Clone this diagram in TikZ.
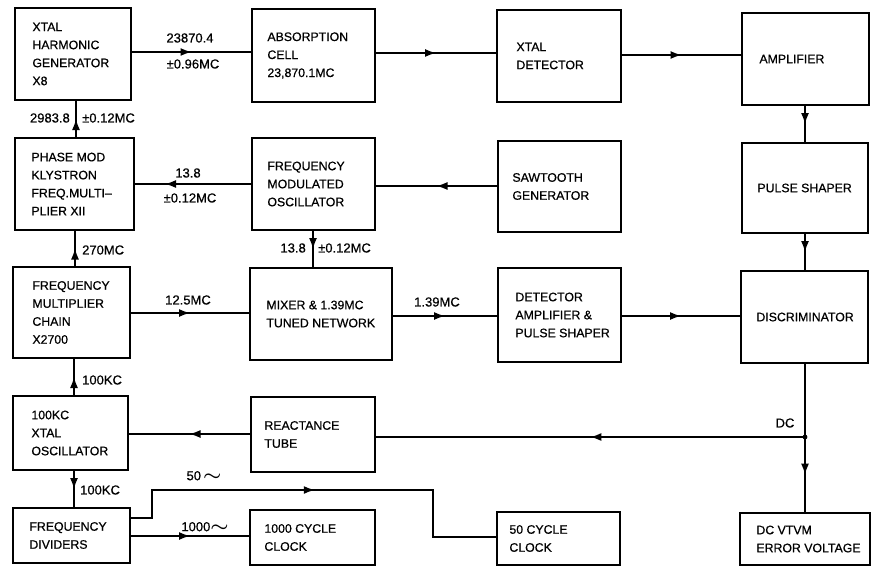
\documentclass[tikz,border=0pt]{standalone}
\usepackage{fontspec}
\setmainfont{Liberation Sans}[FakeBold=0.6]
\usetikzlibrary{decorations.markings,arrows.meta}
\usepackage{amsmath,bm}
\newcommand\wavesym{\raisebox{-0.1ex}{\scalebox{1.7}[1.4]{$\boldsymbol{\sim}$}}}
\tikzset{
  blk/.style={draw, line width=1.5pt, rectangle, inner sep=0pt},
  txt/.style={anchor=west, inner sep=0pt, align=left, font=\fontsize{12.3}{18}\selectfont},
  lbl/.style={inner sep=0pt, font=\fontsize{13}{15}\selectfont},
  wire/.style={line width=1.5pt},
  tipmark/.style={decorate, decoration={markings,
    mark=at position #1 with {\arrow{Latex[length=11pt,width=8pt]}}}},
  arr/.style={wire, postaction={tipmark=#1}},
  arr/.default=0.5
}
\begin{document}
\begin{tikzpicture}[x=1pt,y=-1pt]
\useasboundingbox (0,0) rectangle (874,567);
% boxes
\node[blk, minimum width=116pt, minimum height=92pt] (b1) at (73,54) {};
\node[blk, minimum width=123pt, minimum height=93pt] (b2) at (313.5,55.5) {};
\node[blk, minimum width=124pt, minimum height=92pt] (b3) at (559,56) {};
\node[blk, minimum width=127pt, minimum height=92pt] (b4) at (805.5,59) {};
\node[blk, minimum width=119pt, minimum height=92pt] (b5) at (74.5,184) {};
\node[blk, minimum width=123pt, minimum height=92pt] (b6) at (313.5,184) {};
\node[blk, minimum width=123pt, minimum height=91pt] (b7) at (559.5,186.5) {};
\node[blk, minimum width=126pt, minimum height=90pt] (b8) at (805,188) {};
\node[blk, minimum width=117pt, minimum height=91pt] (b9) at (71.5,312.5) {};
\node[blk, minimum width=142pt, minimum height=92pt] (b10) at (321,314) {};
\node[blk, minimum width=123pt, minimum height=94pt] (b11) at (559.5,315) {};
\node[blk, minimum width=127pt, minimum height=92pt] (b12) at (804.5,317) {};
\node[blk, minimum width=115pt, minimum height=74pt] (b13) at (70.5,433) {};
\node[blk, minimum width=124pt, minimum height=75pt] (b14) at (313,434.5) {};
\node[blk, minimum width=117pt, minimum height=55pt] (b15) at (71.5,535.5) {};
\node[blk, minimum width=125pt, minimum height=55pt] (b16) at (312.5,537.5) {};
\node[blk, minimum width=123pt, minimum height=53pt] (b17) at (558.5,538.5) {};
\node[blk, minimum width=130pt, minimum height=52pt] (b18) at (805,539) {};
% box texts
\node[txt] (t1) at ([xshift=18pt]b1.west) {XTAL\\HARMONIC\\GENERATOR\\X8};
\node[txt] (t2) at ([xshift=16pt]b2.west) {ABSORPTION\\CELL\\23,870.1MC};
\node[txt] (t3) at ([xshift=20pt]b3.west) {XTAL\\DETECTOR};
\node[txt] (t4) at ([xshift=18pt]b4.west) {AMPLIFIER};
\node[txt] (t5) at ([xshift=17pt]b5.west) {PHASE MOD\\KLYSTRON\\FREQ.MULTI--\\PLIER XII};
\node[txt] (t6) at ([xshift=16pt]b6.west) {FREQUENCY\\MODULATED\\OSCILLATOR};
\node[txt] (t7) at ([xshift=15pt]b7.west) {SAWTOOTH\\GENERATOR};
\node[txt] (t8) at ([xshift=16pt]b8.west) {PULSE SHAPER};
\node[txt] (t9) at ([xshift=20pt]b9.west) {FREQUENCY\\MULTIPLIER\\CHAIN\\X2700};
\node[txt] (t10) at ([xshift=17pt]b10.west) {MIXER \& 1.39MC\\TUNED NETWORK};
\node[txt] (t11) at ([xshift=18pt]b11.west) {DETECTOR\\AMPLIFIER \&\\PULSE SHAPER};
\node[txt] (t12) at ([xshift=16pt]b12.west) {DISCRIMINATOR};
\node[txt] (t13) at ([xshift=19pt]b13.west) {100KC\\XTAL\\OSCILLATOR};
\node[txt] (t14) at ([xshift=14pt]b14.west) {REACTANCE\\TUBE};
\node[txt] (t15) at ([xshift=17pt]b15.west) {FREQUENCY\\DIVIDERS};
\node[txt] (t16) at ([xshift=15pt]b16.west) {1000 CYCLE\\CLOCK};
\node[txt] (t17) at ([xshift=13pt]b17.west) {50 CYCLE\\CLOCK};
\node[txt] (t18) at ([xshift=17pt]b18.west) {DC VTVM\\ERROR VOLTAGE};
% connectors
\draw[arr] (b1.east |- 0,52) -- (b2.west |- 0,52);
\draw[arr] (b2.east |- 0,53) -- (b3.west |- 0,53);
\draw[arr] (b3.east |- 0,55) -- (b4.west |- 0,55);
\draw[arr] (b4.south -| 805,0) -- (b8.north -| 805,0);
\draw[arr] (b8.south -| 805,0) -- (b12.north -| 805,0);
\draw[arr] (b7.west |- 0,186) -- (b6.east |- 0,186);
\draw[arr=0.74] (b6.west |- 0,184) -- (b5.east |- 0,184);
\draw[arr] (b6.south -| 313,0) -- (b10.north -| 313,0);
\draw[arr] (b5.north -| 76,0) -- (b1.south -| 76,0);
\draw[arr] (b9.north -| 75,0) -- (b5.south -| 75,0);
\draw[arr] (b9.east |- 0,313) -- (b10.west |- 0,313);
\draw[arr] (b10.east |- 0,316) -- (b11.west |- 0,316);
\draw[arr] (b11.east |- 0,316) -- (b12.west |- 0,316);
\draw[arr] (b13.north -| 74,0) -- (b9.south -| 74,0);
\draw[arr] (b14.west |- 0,434) -- (b13.east |- 0,434);
\draw[arr] (b13.south -| 74,0) -- (b15.north -| 74,0);
% DC junction
\coordinate (j) at (805,437);
\draw[wire] (b12.south -| j) -- (j);
\draw[arr] (j) -- (b18.north -| j);
\draw[arr] (j) -- (b14.east |- j);
\fill (j) circle (2.4pt);
% dividers outputs
\coordinate (c1) at (152,518);
\coordinate (c2) at (152,490);
\coordinate (c3) at (433,490);
\coordinate (c4) at (433,537);
\draw[wire, postaction={tipmark=212pt}]
  (b15.east |- c1) -- (c1) -- (c2) -- (c3) -- (c4) -- (b17.west |- c4);
\draw[arr] (b15.east |- 0,536) -- (b16.west |- 0,536);
% labels
\node[lbl] (l1) at (190,38) {23870.4};
\node[lbl] (l2) at (193,64) {±0.96MC};
\node[lbl, anchor=east] (l3) at (70,118) {2983.8};
\node[lbl, anchor=west] (l4) at (82,118) {±0.12MC};
\node[lbl] (l5) at (188,173) {13.8};
\node[lbl] (l6) at (190,198) {±0.12MC};
\node[lbl, anchor=west] (l7) at (82,250) {270MC};
\node[lbl, anchor=east] (l8) at (306,248) {13.8};
\node[lbl, anchor=west] (l9) at (318,248) {±0.12MC};
\node[lbl] (l10) at (188,300) {12.5MC};
\node[lbl] (l11) at (437,302) {1.39MC};
\node[lbl, anchor=west] (l12) at (82,380) {100KC};
\node[lbl, anchor=west] (l13) at (80,490) {100KC};
\node[lbl] (l14) at (204,476) {50\,\wavesym};
\node[lbl] (l15) at (205,527) {1000\wavesym};
\node[lbl] (l16) at (785,423) {DC};
\end{tikzpicture}
\end{document}
